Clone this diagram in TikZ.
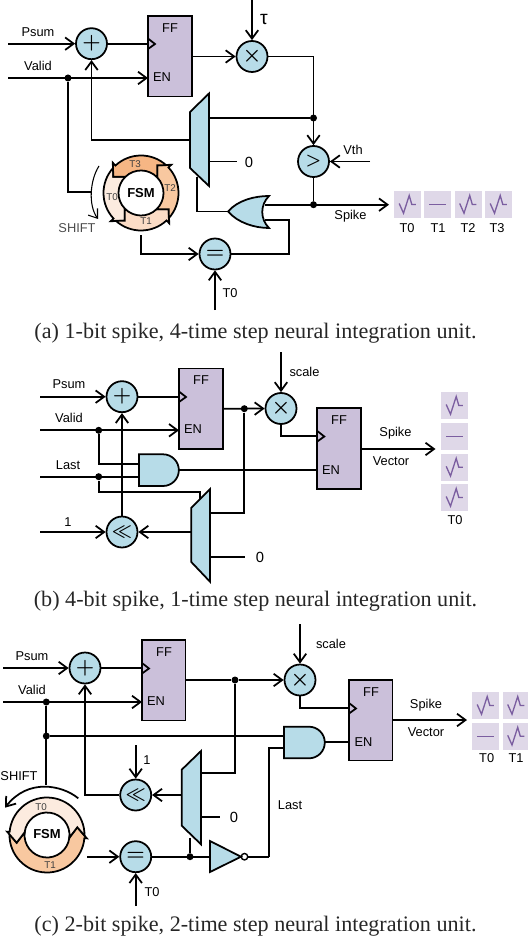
\documentclass[tikz,border=0pt]{standalone}
\usepackage{fontspec}
\usepackage{amsmath,amssymb}
\setmainfont{Liberation Sans}
\newfontfamily\capfont{Liberation Serif}
\usetikzlibrary{arrows.meta}
\definecolor{opblue}{HTML}{B7DCE8}
\definecolor{ffpurple}{HTML}{CBC0DA}
\definecolor{tilepurple}{HTML}{DFD8E8}
\definecolor{spikepurple}{HTML}{7B5EA0}
\definecolor{ringa}{HTML}{FCEBDF}
\definecolor{ringb}{HTML}{FBDCC6}
\definecolor{ringc}{HTML}{F8C8A0}
\definecolor{ringd}{HTML}{F6B684}
\tikzset{
  wire/.style={line width=1pt,line join=miter},
  flow/.style={wire,-{Straight Barb[length=1.7mm,width=2.5mm,line width=1pt]}},
  thinflow/.style={line width=.6pt,-{Straight Barb[length=1.6mm,width=2.3mm,line width=.6pt]}},
  opnode/.style={circle,draw,fill=opblue,line width=1pt,minimum size=.62cm,inner sep=0pt,font=\boldmath},
  ffbox/.style={draw,fill=ffpurple,line width=1pt,minimum width=.87cm,minimum height=1.61cm,inner sep=0pt},
  gate/.style={draw,fill=opblue,line width=1pt},
  dotnode/.style={circle,fill=black,minimum size=.14cm,inner sep=0pt},
  lbl/.style={inner sep=0pt,font=\fontsize{7.3}{9}\selectfont},
  zero/.style={inner sep=0pt,font=\fontsize{8.4}{10}\selectfont},
  ringlbl/.style={inner sep=0pt,font=\fontsize{5.6}{7}\selectfont,text=black!75},
  fsmlbl/.style={inner sep=0pt,font=\fontsize{7.4}{9}\selectfont\bfseries},
  tile/.style={fill=tilepurple,minimum size=.54cm,inner sep=0pt},
  captxt/.style={inner sep=0pt,text=black!85,font=\capfont\fontsize{12.6}{15}\selectfont},
}
\newcommand{\spk}[1]{\draw[spikepurple,line width=.75pt] (#1) ++(-8.3,-1) -- ++(4.3,9.7) -- ++(5.7,-17.7) -- ++(2.6,9) -- ++(4,0);}
\newcommand{\flt}[1]{\draw[spikepurple,line width=.75pt] (#1) ++(-8.3,0) -- ++(16.6,0);}
\newcommand{\ringseg}[2]{\draw[wire,fill=#2] (312+#1:37.5) arc[start angle=312+#1,end angle=227+#1,radius=37.5] -- (227+#1:41.4) -- (210.5+#1:32.1) -- (226+#1:22.5) arc[start angle=226+#1,end angle=316+#1,radius=22.5] -- (300.5+#1:32.1) -- cycle;}
\newcommand{\halfseg}[2]{\draw[wire,fill=#2] (361+#1:37.5) arc[start angle=361+#1,end angle=185+#1,radius=37.5] -- (184.8+#1:40) -- (165.7+#1:31.3) -- (187+#1:22.5) arc[start angle=187+#1,end angle=367+#1,radius=22.5] -- (345.7+#1:31.3) -- cycle;}
\begin{document}
\begin{tikzpicture}[x=.02cm,y=-.02cm]
\useasboundingbox (0,0) rectangle (527,942);
% panel a
\node[opnode] (adda) at (91.5,43.7) {\large$+$};
\node[ffbox] (ffa) at (170,56.3) {};
\node[lbl] (ffatxt) at (170,28.5) {FF};
\node[lbl] (ffaen) at (162,77.5) {EN};
\node[opnode] (mula) at (252,56.5) {\large$\times$};
\node[opnode] (cmpa) at (313.5,161.5) {$>$};
\node[opnode] (eqa) at (215,254) {\large$=$};
\node[dotnode] (dotvalida) at (68,78) {};
\node[dotnode] (dotmuxa) at (313.5,118) {};
\node[dotnode] (dotspka) at (313.5,204.7) {};
\coordinate (psuma) at (8,43.7);
\coordinate (valida) at (8,78);
\coordinate (ffaclk) at (148,43.7);
\coordinate (ffaenin) at (148,78);
\coordinate (ffaout) at (192,56.5);
\coordinate (taua) at (252,0);
\coordinate (vtha) at (370,161.5);
\coordinate (muxaout) at (190,140);
\coordinate (muxatop) at (209,118);
\coordinate (muxazero) at (209,161.5);
\coordinate (zeroa) at (237,161.5);
\coordinate (muxasel) at (197,177);
\coordinate (oraout) at (228,211.5);
\coordinate (orain) at (265,204.7);
\coordinate (orainb) at (265,220);
\coordinate (spkend) at (389,204.7);
\coordinate (shifta) at (90.5,192);
\coordinate (fsmaout) at (141,235.5);
\coordinate (t0a) at (215,310);
\draw[gate] (190,112) -- (209,93.5) -- (209,186) -- (190,168) -- cycle;
\draw[wire] (muxasel) |- (oraout);
\draw[flow] (orain) -- (spkend);
\draw[wire] (orainb) -- (289,220) |- (eqa);
\draw[gate] (228,211.5) .. controls (238,200) and (255,196) .. (269,196) .. controls (260,205) and (260,219) .. (269,228) .. controls (255,228) and (238,223) .. (228,211.5) -- cycle;
\draw[flow] (psuma) -- (adda);
\draw[wire] (adda) -- (ffaclk);
\draw[wire] (148,38.5) -- (155,44) -- (148,49);
\draw[flow] (valida) -- (ffaenin);
\draw[flow] (ffaout) -- (mula);
\draw[flow] (taua) -- (mula);
\draw[flow] (mula) -| (cmpa);
\draw[wire] (muxatop) -- (dotmuxa);
\draw[flow] (muxaout) -| (adda);
\draw[wire] (muxazero) -- (zeroa);
\draw[wire] (dotvalida) |- (shifta);
\draw[flow] (vtha) -- (cmpa);
\draw[wire] (cmpa) -- (dotspka);
\draw[flow] (fsmaout) |- (eqa);
\draw[flow] (t0a) -- (eqa);
\draw[thinflow] (99,166) .. controls (90,180) and (88,205) .. (98,219);
\begin{scope}[shift={(141,193)}]
\ringseg{270}{ringa}
\ringseg{180}{ringb}
\ringseg{90}{ringc}
\ringseg{0}{ringd}
\end{scope}
\node[lbl] (psumatxt) at (38,32) {Psum};
\node[lbl] (validatxt) at (38,66) {Valid};
\node[inner sep=0pt,font=\fontsize{11}{12}\selectfont] (tauatxt) at (264,19) {τ};
\node[zero] (zeroatxt) at (249,162) {0};
\node[lbl] (vthatxt) at (353,150) {Vth};
\node[lbl] (t0atxt) at (230,293) {T0};
\node[lbl] (spikeatxt) at (350.5,216) {Spike};
\node[lbl,text=black!70] (shiftatxt) at (77,228) {SHIFT};
\node[fsmlbl] (fsma) at (141,193) {FSM};
\node[ringlbl] (rt3) at (135,163.7) {T3};
\node[ringlbl] (rt2) at (170,188) {T2};
\node[ringlbl] (rt1) at (146,221) {T1};
\node[ringlbl] (rt0) at (112,197) {T0};
\node[tile] (tia) at (407.5,204.5) {};
\node[tile] (tib) at (437.5,204.5) {};
\node[tile] (tic) at (468,204.5) {};
\node[tile] (tid) at (498.5,204.5) {};
\spk{tia}
\flt{tib}
\spk{tic}
\spk{tid}
\node[lbl] (tial) at (407,228) {T0};
\node[lbl] (tibl) at (438,228) {T1};
\node[lbl] (ticl) at (468,228) {T2};
\node[lbl] (tidl) at (497,228) {T3};
\node[captxt] (capa) at (255.5,333) {(a) 1-bit spike, 4-time step neural integration unit.};
% panel b
\node[opnode] (addb) at (122,396.7) {\large$+$};
\node[ffbox] (ffb) at (201,408.7) {};
\node[lbl] (ffbtxt) at (201,380) {FF};
\node[lbl] (ffben) at (193,429.5) {EN};
\node[opnode] (mulb) at (281,408.5) {\large$\times$};
\node[ffbox] (ffc) at (339,448.5) {};
\node[lbl] (ffctxt) at (339,420) {FF};
\node[lbl] (ffcen) at (331,470) {EN};
\node[opnode] (shb) at (122,532) {$\ll$};
\node[dotnode] (dotvalidb) at (98.7,430.3) {};
\node[dotnode] (dotlastb) at (98.7,476.7) {};
\node[dotnode] (dotffb) at (244.3,408.7) {};
\coordinate (psumb) at (40,396.7);
\coordinate (validb) at (40,430.3);
\coordinate (lastb) at (40,476.7);
\coordinate (oneb) at (40,532);
\coordinate (ffbclk) at (179,396.7);
\coordinate (ffbenin) at (179,430.3);
\coordinate (ffbout) at (222.7,408.7);
\coordinate (andbina) at (139,464);
\coordinate (andbinb) at (139,476.7);
\coordinate (andbout) at (179.3,470.3);
\coordinate (ffcenin) at (317.3,470.3);
\coordinate (ffcclk) at (317.3,436);
\coordinate (ffcout) at (360.7,449);
\coordinate (vecb) at (435.5,449);
\coordinate (scaleb) at (281,352);
\coordinate (muxbsel) at (200,499);
\coordinate (muxbout) at (191.3,532);
\coordinate (muxbtop) at (210,513.3);
\coordinate (muxbzero) at (210,556.7);
\coordinate (zerob) at (245,556.7);
\draw[wire] (dotlastb) -- (98.7,491.7) -| (muxbsel);
\draw[gate] (139,454.3) -- (163,454.3) arc[start angle=-90,end angle=90,radius=15.85] -- (139,486) -- cycle;
\draw[gate] (191.3,507.7) -- (210,489) -- (210,581.7) -- (191.3,562) -- cycle;
\draw[flow] (psumb) -- (addb);
\draw[wire] (addb) -- (ffbclk);
\draw[wire] (179,391.5) -- (186,397) -- (179,402);
\draw[flow] (validb) -- (ffbenin);
\draw[wire] (dotvalidb) |- (andbina);
\draw[wire] (lastb) -- (andbinb);
\draw[flow] (shb) -- (addb);
\draw[flow] (oneb) -- (shb);
\draw[flow] (muxbout) -- (shb);
\draw[wire] (muxbtop) -| (dotffb);
\draw[flow] (ffbout) -- (mulb);
\draw[flow] (scaleb) -- (mulb);
\draw[wire] (mulb) |- (ffcclk);
\draw[wire] (andbout) -- (ffcenin);
\draw[wire] (muxbzero) -- (zerob);
\draw[wire] (317.3,431) -- (324.3,436.5) -- (317.3,441.5);
\draw[flow] (ffcout) -- (vecb);
\node[lbl] (psumbtxt) at (69,384) {Psum};
\node[lbl] (validbtxt) at (69,418) {Valid};
\node[lbl] (lastbtxt) at (68,465) {Last};
\node[lbl] (onebtxt) at (68,522) {1};
\node[lbl] (scalebtxt) at (304.5,372) {scale};
\node[zero] (zerobtxt) at (260,557) {0};
\node[lbl] (spikebtxt) at (395.5,433.5) {Spike};
\node[lbl] (vectorbtxt) at (391,461) {Vector};
\node[tile] (tie) at (454.5,405.5) {};
\node[tile] (tif) at (454.5,436.3) {};
\node[tile] (tig) at (454.5,467.3) {};
\node[tile] (tih) at (454.5,497.5) {};
\spk{tie}
\flt{tif}
\spk{tig}
\spk{tih}
\node[lbl] (tiel) at (455,520) {T0};
\node[captxt] (capb) at (255.5,601) {(b) 4-bit spike, 1-time step neural integration unit.};
% panel c
\node[opnode] (addc) at (85,668) {\large$+$};
\node[ffbox] (ffd) at (163.8,680.3) {};
\node[lbl] (ffdtxt) at (164,652) {FF};
\node[lbl] (ffden) at (156,701.5) {EN};
\node[opnode] (mulc) at (300,680) {\large$\times$};
\node[ffbox] (ffe) at (370.8,720.3) {};
\node[lbl] (ffetxt) at (371,692) {FF};
\node[lbl] (ffeen) at (363.5,742) {EN};
\node[opnode] (shc) at (135.7,795) {$\ll$};
\node[opnode] (eqc) at (135.7,856.7) {\large$=$};
\node[dotnode] (dotvalidc) at (46.3,702) {};
\node[dotnode] (dotandc) at (46.3,736) {};
\node[dotnode] (dotffc) at (235,680) {};
\node[dotnode] (doteqc) at (190,856.7) {};
\coordinate (psumc) at (3,668);
\coordinate (validc) at (3,702);
\coordinate (ffdclk) at (142,668);
\coordinate (ffdenin) at (142,702);
\coordinate (ffdout) at (185.7,680);
\coordinate (scalec) at (300,624);
\coordinate (ffeclk) at (349,708);
\coordinate (ffeenin) at (349,742);
\coordinate (ffeout) at (392.7,720);
\coordinate (vecc) at (467,720);
\coordinate (andcina) at (284,736);
\coordinate (andcinb) at (284,748.3);
\coordinate (andcout) at (325,742);
\coordinate (shiftc) at (46.3,785);
\coordinate (onec) at (135.7,745);
\coordinate (muxctop) at (201,773);
\coordinate (muxcout) at (181.7,795);
\coordinate (muxczero) at (201,816.7);
\coordinate (zeroc) at (220,816.7);
\coordinate (muxcsel) at (190,838);
\coordinate (fsmcout) at (87,856.7);
\coordinate (t0c) at (135.7,906);
\coordinate (invcin) at (210,856.7);
\coordinate (lastc) at (269,856.7);
\node[circle,draw,fill=white,line width=.8pt,minimum size=.13cm,inner sep=0pt] (bubc) at (244.5,856.7) {};
\draw[gate] (284,726.7) -- (309,726.7) arc[start angle=-90,end angle=90,radius=15.8] -- (284,758.3) -- cycle;
\draw[gate] (181.7,769.7) -- (201,751) -- (201,844.3) -- (181.7,825.7) -- cycle;
\draw[gate] (210,841) -- (241,856.7) -- (210,872) -- cycle;
\draw[flow] (psumc) -- (addc);
\draw[wire] (addc) -- (ffdclk);
\draw[wire] (142,663) -- (149,668.5) -- (142,673.5);
\draw[flow] (validc) -- (ffdenin);
\draw[wire] (dotvalidc) -- (shiftc);
\draw[wire] (dotandc) -- (andcina);
\draw[wire] (ffdout) -- (dotffc);
\draw[flow] (dotffc) -- (mulc);
\draw[wire] (dotffc) |- (muxctop);
\draw[flow] (onec) -- (shc);
\draw[flow] (muxcout) -- (shc);
\draw[flow] (shc) -| (addc);
\draw[wire] (muxczero) -- (zeroc);
\draw[wire] (muxcsel) -- (doteqc);
\draw[flow] (fsmcout) -- (eqc);
\draw[flow] (t0c) -- (eqc);
\draw[wire] (eqc) -- (invcin);
\draw[wire] (bubc) -- (lastc);
\draw[wire] (lastc) |- (andcinb);
\draw[wire] (andcout) -- (ffeenin);
\draw[flow] (scalec) -- (mulc);
\draw[wire] (mulc) |- (ffeclk);
\draw[wire] (349,703) -- (356,708.5) -- (349,713.5);
\draw[flow] (ffeout) -- (vecc);
\draw[flow] (78.3,798.3) .. controls (62,785) and (28,778) .. (5,807.7);
\begin{scope}[shift={(47,835)}]
\halfseg{180}{ringc}
\halfseg{0}{ringa}
\end{scope}
\node[lbl] (psumctxt) at (32,656) {Psum};
\node[lbl] (validctxt) at (32,690) {Valid};
\node[lbl] (shiftctxt) at (19,776) {SHIFT};
\node[fsmlbl] (fsmc) at (47,834.3) {FSM};
\node[ringlbl] (rc0) at (41,806.7) {T0};
\node[ringlbl] (rc1) at (50,865) {T1};
\node[lbl] (onectxt) at (147,760) {1};
\node[zero] (zeroctxt) at (234,817) {0};
\node[lbl] (t0ctxt) at (152,892) {T0};
\node[lbl] (lastctxt) at (290,805) {Last};
\node[lbl] (scalectxt) at (331,644) {scale};
\node[lbl] (spikectxt) at (426,705) {Spike};
\node[lbl] (vectorctxt) at (426,732) {Vector};
\node[tile] (tii) at (485.5,705.5) {};
\node[tile] (tij) at (516,705.5) {};
\node[tile] (tik) at (485.5,736.3) {};
\node[tile] (til) at (516,736.3) {};
\spk{tii}
\spk{tij}
\flt{tik}
\spk{til}
\node[lbl] (tiil) at (486.7,758) {T0};
\node[lbl] (tijl) at (516,758) {T1};
\node[captxt] (capc) at (255.5,926) {(c) 2-bit spike, 2-time step neural integration unit.};
\end{tikzpicture}
\end{document}
